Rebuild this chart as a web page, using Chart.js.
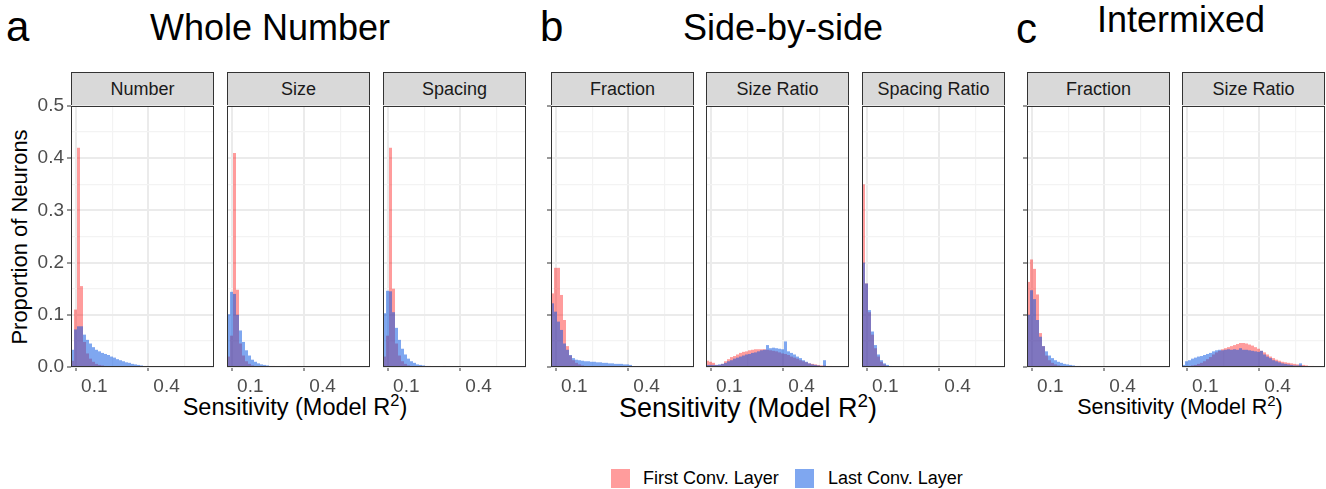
<!DOCTYPE html>
<html>
<head>
<meta charset="utf-8">
<script src="https://cdn.jsdelivr.net/npm/chart.js@4.4.1/dist/chart.umd.min.js"></script>
<style>
  body { margin: 0; background: #fff; width: 1326px; height: 489px; position: relative; overflow: hidden;
         font-family: "Liberation Sans", Arial, sans-serif; }
  .txt { position: absolute; white-space: nowrap; line-height: 1; color: #000; }
  .title { font-size: 36px; }
  .letter { font-size: 42px; }
  .xlab { font-size: 22px; }
  .xlab sup { font-size: 0.7em; line-height: 0; vertical-align: 0.55em; }
  .strip { position: absolute; top: 72px; height: 35px; box-sizing: border-box; background: #d9d9d9;
           border: 1px solid #333; color: #1a1a1a; font-size: 18px; display: flex;
           align-items: center; justify-content: center; }
  .key { position: absolute; width: 19px; height: 19px; }
  .legtxt { position: absolute; font-size: 18px; color: #000; line-height: 19px; white-space: nowrap; }
  canvas { position: absolute; }
</style>
</head>
<body>

<div class="txt letter" style="left:6px;top:6px">a</div>
<div class="txt title" style="left:150px;top:10px">Whole Number</div>
<div class="txt letter" style="left:540px;top:6px">b</div>
<div class="txt title" style="left:683px;top:10px">Side-by-side</div>
<div class="txt letter" style="left:1016px;top:8px">c</div>
<div class="txt title" style="left:1097px;top:2px">Intermixed</div>

<div class="txt xlab" style="left:20px;top:237px;transform:translate(-50%,-50%) rotate(-90deg)">Proportion of Neurons</div>
<div class="txt xlab" style="left:295px;top:396px;font-size:23.5px;transform:translateX(-50%)">Sensitivity (Model R<sup>2</sup>)</div>
<div class="txt xlab" style="left:748px;top:395px;font-size:27px;transform:translateX(-50%)">Sensitivity (Model R<sup>2</sup>)</div>
<div class="txt xlab" style="left:1180px;top:397px;font-size:21.5px;transform:translateX(-50%)">Sensitivity (Model R<sup>2</sup>)</div>

<div class="key" id="key-first" style="left:611px;top:469px"></div>
<div class="legtxt" style="left:643px;top:469px">First Conv. Layer</div>
<div class="key" id="key-last" style="left:795px;top:469px"></div>
<div class="legtxt" style="left:828px;top:469px">Last Conv. Layer</div>

<div id="panels"></div>

<script>
// ---- data (proportion of neurons per sensitivity bin) ----
const X_TICKS = [0.1, 0.4];
const Y_TICKS = [0, 0.1, 0.2, 0.3, 0.4, 0.5];

// bins are equal width on a log10(R^2) axis, first bin starts at the panel's left edge
const X_MIN = -1.194;
const X_MAX = -0.0023;
const BIN_W = 0.025;

// Whole Number
const NUMBER_FIRST = [0.012, 0.11, 0.42, 0.155, 0.048, 0.026, 0.016, 0.01, 0.006, 0.004, 0.003, 0.002, 0.001, 0.001];
const NUMBER_LAST = [0.033, 0.072, 0.078, 0.078, 0.062, 0.052, 0.045, 0.038, 0.033, 0.03, 0.027, 0.025, 0.023, 0.02,
  0.018, 0.015, 0.013, 0.011, 0.009, 0.008, 0.006, 0.005, 0.004, 0.003, 0.002, 0.002, 0.001, 0.001];
const SIZE_FIRST = [0.02, 0.06, 0.41, 0.148, 0.045, 0.022, 0.011, 0.006, 0.003, 0.002, 0.001, 0.001, 0, 0, 0, 0.002,
  0, 0, 0, 0, 0.002];
const SIZE_LAST = [0.101, 0.144, 0.14, 0.1, 0.07, 0.048, 0.032, 0.022, 0.014, 0.01, 0.007, 0.005, 0.004, 0.003, 0.002,
  0.001, 0.001];
const SPACING_FIRST = [0.02, 0.06, 0.42, 0.15, 0.045, 0.022, 0.011, 0.006, 0.003, 0.002, 0.001, 0.001, 0, 0, 0, 0.002,
  0, 0, 0, 0, 0.002];
const SPACING_LAST = [0.103, 0.146, 0.145, 0.105, 0.075, 0.052, 0.035, 0.024, 0.016, 0.011, 0.008, 0.005, 0.004, 0.003,
  0.002, 0.001, 0.001];

// Side-by-side
const SBS_FRACTION_FIRST = [0.141, 0.19, 0.19, 0.138, 0.09, 0.04, 0.022, 0.013, 0.008, 0.005, 0.003, 0.002, 0.001];
const SBS_FRACTION_LAST = [0.122, 0.106, 0.087, 0.071, 0.045, 0.033, 0.023, 0.017, 0.014, 0.013, 0.012, 0.011, 0.011,
  0.01, 0.01, 0.009, 0.009, 0.008, 0.008, 0.007, 0.007, 0.006, 0.006, 0.006, 0.005, 0.005, 0.004, 0, 0, 0, 0, 0, 0, 0,
  0, 0, 0, 0, 0, 0.002];
const SBS_SIZE_FIRST = [0.012, 0.01, 0.008, 0.004, 0.004, 0.006, 0.011, 0.015, 0.019, 0.021, 0.024, 0.027, 0.029, 0.03,
  0.032, 0.033, 0.034, 0.034, 0.034, 0.034, 0.033, 0.032, 0.031, 0.03, 0.028, 0.026, 0.025, 0.023, 0.02, 0.018, 0.016,
  0.013, 0.011, 0.009, 0.007, 0.006, 0.005, 0.004, 0.003, 0.003, 0.002, 0.002, 0.001, 0.001];
const SBS_SIZE_LAST = [0.004, 0.004, 0.004, 0.004, 0.005, 0.006, 0.008, 0.011, 0.013, 0.016, 0.018, 0.02, 0.022, 0.024,
  0.025, 0.027, 0.028, 0.03, 0.032, 0.033, 0.042, 0.036, 0.037, 0.036, 0.035, 0.034, 0.049, 0.03, 0.027, 0.024, 0.02,
  0.017, 0.013, 0.01, 0.007, 0.005, 0.004, 0.003, 0.002, 0.013, 0.001, 0.001];
const SBS_SPACING_FIRST = [0.35, 0.16, 0.105, 0.062, 0.036, 0.02, 0.01, 0.005, 0.002, 0.001];
const SBS_SPACING_LAST = [0.2, 0.16, 0.109, 0.068, 0.042, 0.024, 0.013, 0.007, 0.004, 0.002];

// Intermixed
const MIX_FRACTION_FIRST = [0.163, 0.206, 0.188, 0.139, 0.065, 0.04, 0.022, 0.013, 0.008, 0.005, 0.003, 0.002, 0.001];
const MIX_FRACTION_LAST = [0.1, 0.147, 0.13, 0.09, 0.058, 0.04, 0.03, 0.022, 0.017, 0.013, 0.01, 0.008, 0.006, 0.005,
  0.004, 0.003, 0.002, 0.002, 0.001];
const MIX_SIZE_FIRST = [0, 0.001, 0.002, 0.003, 0.004, 0.006, 0.008, 0.011, 0.015, 0.019, 0.024, 0.028, 0.031, 0.034,
  0.036, 0.038, 0.04, 0.042, 0.044, 0.046, 0.046, 0.045, 0.043, 0.041, 0.038, 0.035, 0.031, 0.028, 0.024, 0.02, 0.017,
  0.014, 0.012, 0.01, 0.009, 0.008, 0.007, 0.006, 0.005, 0.004, 0.004, 0.003, 0.002, 0.002, 0.001, 0.001];
const MIX_SIZE_LAST = [0.004, 0.011, 0.013, 0.016, 0.018, 0.02, 0.021, 0.023, 0.025, 0.027, 0.03, 0.032, 0.033, 0.032,
  0.033, 0.034, 0.033, 0.034, 0.033, 0.036, 0.033, 0.033, 0.032, 0.031, 0.03, 0.029, 0.031, 0.024, 0.02, 0.017, 0.013,
  0.011, 0.009, 0.007, 0.006, 0.005, 0.004, 0.003, 0.003, 0.007, 0.002, 0.001, 0.001, 0.001];

const FACETS = [
  { name: 'Number',        first: NUMBER_FIRST,       last: NUMBER_LAST },
  { name: 'Size',          first: SIZE_FIRST,         last: SIZE_LAST },
  { name: 'Spacing',       first: SPACING_FIRST,      last: SPACING_LAST },
  { name: 'Fraction',      first: SBS_FRACTION_FIRST, last: SBS_FRACTION_LAST },
  { name: 'Size Ratio',    first: SBS_SIZE_FIRST,     last: SBS_SIZE_LAST },
  { name: 'Spacing Ratio', first: SBS_SPACING_FIRST,  last: SBS_SPACING_LAST },
  { name: 'Fraction',      first: MIX_FRACTION_FIRST, last: MIX_FRACTION_LAST },
  { name: 'Size Ratio',    first: MIX_SIZE_FIRST,     last: MIX_SIZE_LAST },
];

// ---- layout / style ----
const PANEL_LEFT = [71, 227, 383, 551, 706, 862, 1027, 1182];
const Y_AXIS = ['labels', 'none', 'none', 'ticks', 'none', 'none', 'ticks', 'none'];
const PANEL_W = 143;
const CANVAS_TOP = 90, CANVAS_H = 310, AREA_TOP = 16, XAXIS_H = 33;

const RED = 'rgba(255, 20, 20, 0.42)';
const BLUE = 'rgba(0, 80, 225, 0.5)';
const GRID_MAJOR = '#ebebeb', GRID_MINOR = '#f3f3f3';
const AXIS_TEXT = '#4d4d4d';

document.getElementById('key-first').style.background = RED;
document.getElementById('key-last').style.background = BLUE;

// major grid lines plus minor ones halfway between (in transformed space)
const xMajor = X_TICKS.map(v => Math.log10(v));
const xStep = xMajor[1] - xMajor[0];
const xGrid = [xMajor[0], xMajor[0] + xStep / 2, xMajor[1], xMajor[1] + xStep / 2];
const yGrid = [];
Y_TICKS.forEach((v, i) => {
  yGrid.push(v);
  if (i < Y_TICKS.length - 1) yGrid.push((v + Y_TICKS[i + 1]) / 2);
});

const binPoints = vals => vals.map((v, i) => ({ x: X_MIN + (i + 0.5) * BIN_W, y: v }));

// ggplot-style panel border on top of the bars
const panelFrame = {
  id: 'panelFrame',
  afterDraw(chart) {
    const { ctx, chartArea: a } = chart;
    ctx.save();
    ctx.strokeStyle = '#333';
    ctx.lineWidth = 1;
    ctx.strokeRect(a.left + 0.5, a.top + 0.5, a.right - a.left - 1, a.bottom - a.top - 1);
    ctx.restore();
  }
};

const holder = document.getElementById('panels');

FACETS.forEach((f, i) => {
  const left = PANEL_LEFT[i];
  const mode = Y_AXIS[i];
  const padL = mode === 'labels' ? 36 : mode === 'ticks' ? 6 : 0;

  const strip = document.createElement('div');
  strip.className = 'strip';
  strip.style.left = left + 'px';
  strip.style.width = PANEL_W + 'px';
  strip.textContent = f.name;
  holder.appendChild(strip);

  const cv = document.createElement('canvas');
  cv.width = padL + PANEL_W + 2;
  cv.height = CANVAS_H;
  cv.style.left = (left - padL) + 'px';
  cv.style.top = CANVAS_TOP + 'px';
  holder.appendChild(cv);

  const barStyle = { grouped: false, barPercentage: 1, categoryPercentage: 1, borderWidth: 0, inflateAmount: 0 };

  new Chart(cv, {
    type: 'bar',
    data: {
      datasets: [
        { label: 'Last Conv. Layer', data: binPoints(f.last), backgroundColor: BLUE, order: 1, ...barStyle },
        { label: 'First Conv. Layer', data: binPoints(f.first), backgroundColor: RED, order: 2, ...barStyle },
      ]
    },
    options: {
      responsive: false,
      animation: false,
      events: [],
      layout: { padding: { top: AREA_TOP, right: 2, left: 0, bottom: 0 } },
      plugins: { legend: { display: false }, tooltip: { enabled: false } },
      scales: {
        x: {
          type: 'linear',
          min: X_MIN,
          max: X_MAX,
          offset: false,
          afterBuildTicks: s => { s.ticks = xGrid.map(v => ({ value: v })); },
          afterFit: s => { s.height = XAXIS_H; },
          ticks: {
            autoSkip: false, maxRotation: 0, padding: 4, color: AXIS_TEXT,
            font: { size: 19, family: '"Liberation Sans", Arial, sans-serif' },
            callback: (v, idx) => idx % 2 ? '' : String(X_TICKS[idx / 2])
          },
          grid: {
            color: c => c.index % 2 ? GRID_MINOR : GRID_MAJOR,
            lineWidth: c => c.index % 2 ? 1.2 : 2,
            tickColor: c => c.index % 2 ? 'rgba(0,0,0,0)' : '#333',
            tickLength: 4,
            tickWidth: 1
          },
          border: { display: false }
        },
        y: {
          min: 0,
          max: 0.5,
          afterBuildTicks: s => { s.ticks = yGrid.map(v => ({ value: v })); },
          afterFit: s => { s.width = padL; },
          ticks: {
            display: mode === 'labels',
            padding: 3, color: AXIS_TEXT,
            font: { size: 19, family: '"Liberation Sans", Arial, sans-serif' },
            callback: (v, idx) => idx % 2 ? '' : v.toFixed(1)
          },
          grid: {
            color: c => c.index % 2 ? GRID_MINOR : GRID_MAJOR,
            lineWidth: c => c.index % 2 ? 1.2 : 2,
            drawTicks: mode !== 'none',
            tickColor: c => c.index % 2 ? 'rgba(0,0,0,0)' : '#333',
            tickLength: 4,
            tickWidth: 1
          },
          border: { display: false }
        }
      }
    },
    plugins: [panelFrame]
  });
});
</script>
</body>
</html>
